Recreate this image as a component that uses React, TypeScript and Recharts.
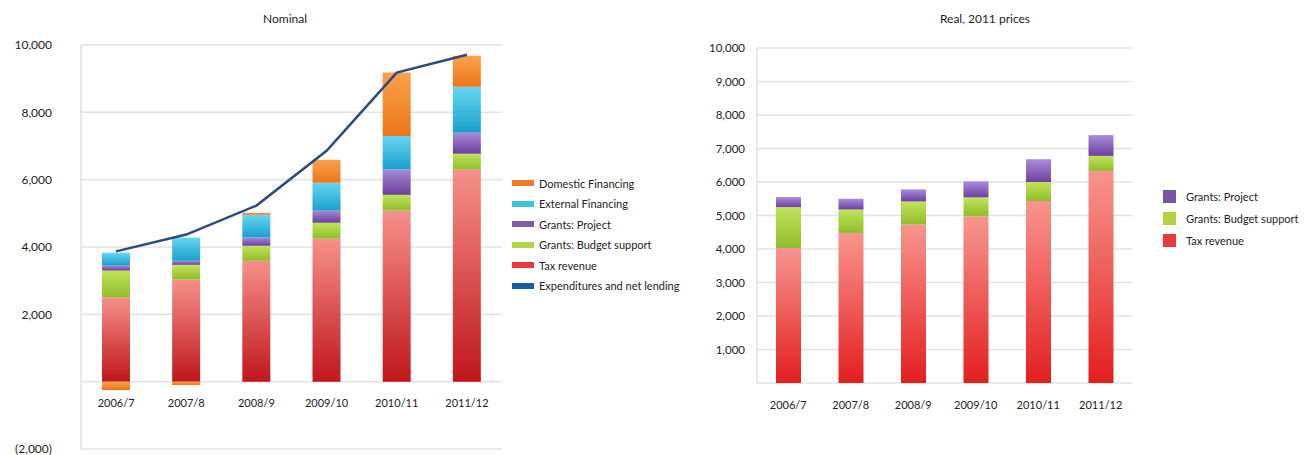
import React from "react";
import {
  ComposedChart,
  BarChart,
  Bar,
  Line,
  XAxis,
  YAxis,
  CartesianGrid,
} from "recharts";

const years = ["2006/7", "2007/8", "2008/9", "2009/10", "2010/11", "2011/12"];

// Nominal
const nomTax = [2500, 3030, 3590, 4250, 5080, 6300];
const nomBudget = [800, 440, 450, 470, 470, 470];
const nomProject = [150, 120, 240, 360, 750, 620];
const nomExternal = [380, 690, 680, 830, 1000, 1370];
const nomDomestic = [-250, -100, 60, 680, 1880, 920];
const nomExpend = [3870, 4370, 5230, 6860, 9180, 9710];

// Real, 2011 prices
const realTax = [4030, 4480, 4730, 4980, 5430, 6330];
const realBudget = [1220, 700, 690, 560, 570, 450];
const realProject = [300, 320, 360, 480, 680, 620];

const nomTicks = [-2000, 0, 2000, 4000, 6000, 8000, 10000];
const realTicks = [0, 1000, 2000, 3000, 4000, 5000, 6000, 7000, 8000, 9000, 10000];

const nominalData = years.map((name, i) => ({
  name,
  tax: nomTax[i],
  budget: nomBudget[i],
  project: nomProject[i],
  external: nomExternal[i],
  domestic: nomDomestic[i],
  expend: nomExpend[i],
}));

const realData = years.map((name, i) => ({
  name,
  tax: realTax[i],
  budget: realBudget[i],
  project: realProject[i],
}));

const nomLegend = [
  { label: "Domestic Financing", color: "#f07c2a" },
  { label: "External Financing", color: "#3ec1e6" },
  { label: "Grants: Project", color: "#7f5ea8" },
  { label: "Grants: Budget support", color: "#b5d446" },
  { label: "Tax revenue", color: "#e83a3a" },
  { label: "Expenditures and net lending", color: "#1560a8" },
];

const realLegend = [
  { label: "Grants: Project", color: "#7655a5" },
  { label: "Grants: Budget support", color: "#b4d23f" },
  { label: "Tax revenue", color: "#e8393b" },
];

const font = "Lato, 'DejaVu Sans', sans-serif";

const fmt = (v: number) =>
  v === 0 ? "" : v < 0 ? `(${Math.abs(v).toLocaleString("en-US")})` : v.toLocaleString("en-US");

const CatTick = (props: any) => {
  const { x, y, payload, shift } = props;
  return (
    <text x={x} y={y + shift} textAnchor="middle" fontSize={11} fill="#222" fontFamily={font}>
      {payload.value}
    </text>
  );
};

const Grad = ({ id, top, bottom }: { id: string; top: string; bottom: string }) => (
  <linearGradient id={id} x1="0" y1="0" x2="0" y2="1">
    <stop offset="0%" stopColor={top} />
    <stop offset="100%" stopColor={bottom} />
  </linearGradient>
);

export default function App() {
  return (
    <div style={{ position: "absolute", left: 0, top: 0, width: 1304, height: 455, background: "#fff", fontFamily: font }}>
      <div style={{ position: "absolute", left: 185, width: 200, top: 11, textAlign: "center", fontSize: 12, color: "#222" }}>
        Nominal
      </div>
      <div style={{ position: "absolute", left: 885, width: 200, top: 11, textAlign: "center", fontSize: 12, color: "#222" }}>
        Real, 2011 prices
      </div>

      <div style={{ position: "absolute", left: 0, top: 0 }}>
        <ComposedChart
          width={520}
          height={455}
          data={nominalData}
          stackOffset="sign"
          margin={{ top: 45, right: 18, left: 0, bottom: 0 }}
        >
          <defs>
            <Grad id="nTax" top="#f6908a" bottom="#bf161b" />
            <Grad id="nBud" top="#c2e25a" bottom="#8fbd2c" />
            <Grad id="nPro" top="#a68ad6" bottom="#6a3f9c" />
            <Grad id="nExt" top="#66d6f2" bottom="#1a9fcb" />
            <Grad id="nDom" top="#f9a24c" bottom="#ec7518" />
          </defs>
          <CartesianGrid vertical={false} stroke="#e2e2e2" strokeWidth={1.5} />
          <XAxis
            dataKey="name"
            height={6}
            axisLine={false}
            tickLine={false}
            tick={(p: any) => <CatTick {...p} shift={-50} />}
          />
          <YAxis
            width={81}
            domain={[-2000, 10000]}
            ticks={nomTicks}
            tickFormatter={fmt}
            axisLine={{ stroke: "#e0e0e0", strokeWidth: 1.5 }}
            tickLine={false}
            tickMargin={23}
            tick={{ fontSize: 12, fill: "#222", fontFamily: font }}
            interval={0}
          />
          <Bar dataKey="tax" stackId="a" fill="url(#nTax)" barSize={28} isAnimationActive={false} />
          <Bar dataKey="budget" stackId="a" fill="url(#nBud)" barSize={28} isAnimationActive={false} />
          <Bar dataKey="project" stackId="a" fill="url(#nPro)" barSize={28} isAnimationActive={false} />
          <Bar dataKey="external" stackId="a" fill="url(#nExt)" barSize={28} isAnimationActive={false} />
          <Bar dataKey="domestic" stackId="a" fill="url(#nDom)" barSize={28} isAnimationActive={false} />
          <Line
            dataKey="expend"
            type="linear"
            stroke="#2e4a7d"
            strokeWidth={2.5}
            dot={false}
            isAnimationActive={false}
          />
        </ComposedChart>
      </div>

      <div style={{ position: "absolute", left: 512, top: 173 }}>
        {nomLegend.map((l) => (
          <div key={l.label} style={{ display: "flex", alignItems: "center", height: 20.5 }}>
            <div style={{ width: 22, height: 6, background: l.color, marginRight: 5 }} />
            <span style={{ fontSize: 11, color: "#222", whiteSpace: "nowrap" }}>{l.label}</span>
          </div>
        ))}
      </div>

      <div style={{ position: "absolute", left: 677, top: 0 }}>
        <BarChart
          width={465}
          height={455}
          data={realData}
          margin={{ top: 48, right: 10, left: 0, bottom: 42 }}
        >
          <defs>
            <Grad id="rTax" top="#f8958e" bottom="#e31f1f" />
            <Grad id="rBud" top="#c2e25a" bottom="#8fbd2c" />
            <Grad id="rPro" top="#a88ddb" bottom="#6c40a0" />
          </defs>
          <CartesianGrid vertical={false} stroke="#e2e2e2" strokeWidth={1.5} />
          <XAxis
            dataKey="name"
            height={30}
            axisLine={false}
            tickLine={false}
            tick={(p: any) => <CatTick {...p} shift={18} />}
          />
          <YAxis
            width={80}
            domain={[0, 10000]}
            ticks={realTicks}
            tickFormatter={fmt}
            axisLine={{ stroke: "#e0e0e0", strokeWidth: 1.5 }}
            tickLine={false}
            tickMargin={6}
            tick={{ fontSize: 11.5, fill: "#222", fontFamily: font }}
            interval={0}
          />
          <Bar dataKey="tax" stackId="r" fill="url(#rTax)" barSize={25} isAnimationActive={false} />
          <Bar dataKey="budget" stackId="r" fill="url(#rBud)" barSize={25} isAnimationActive={false} />
          <Bar dataKey="project" stackId="r" fill="url(#rPro)" barSize={25} isAnimationActive={false} />
        </BarChart>
      </div>

      <div style={{ position: "absolute", left: 1163, top: 185 }}>
        {realLegend.map((l) => (
          <div key={l.label} style={{ display: "flex", alignItems: "center", height: 22 }}>
            <div style={{ width: 13, height: 13, background: l.color, marginRight: 10 }} />
            <span style={{ fontSize: 11, color: "#222", whiteSpace: "nowrap" }}>{l.label}</span>
          </div>
        ))}
      </div>
    </div>
  );
}
